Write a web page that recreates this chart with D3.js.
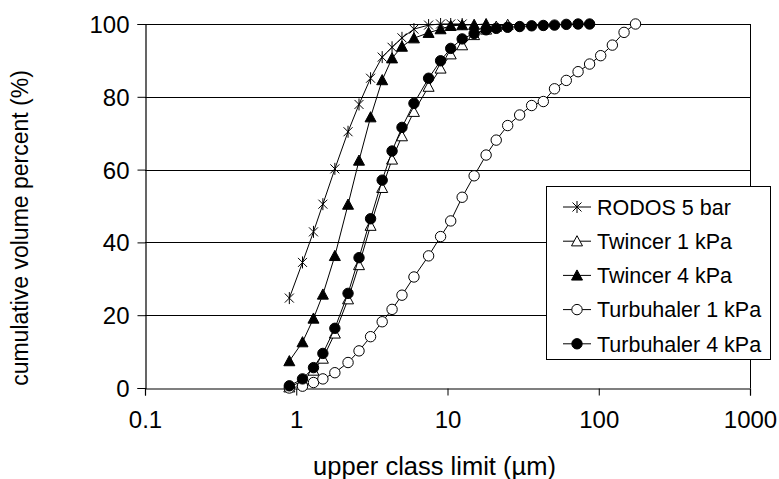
<!DOCTYPE html>
<html><head><meta charset="utf-8">
<script src="https://cdn.jsdelivr.net/npm/d3@7"></script>
<style>body{margin:0;background:#fff}svg text{font-family:"Liberation Sans",Arial,sans-serif;fill:#000}</style>
</head><body><svg id="c" width="779" height="479"></svg>
<script>
const sizes = [0.9,1.1,1.3,1.5,1.8,2.2,2.6,3.1,3.7,4.3,5.0,6.0,7.5,9.0,10.5,12.5,15,18,21,25,30,36,43,51,61,73,87,103,123,147,175];
const rodos5bar      = [24.7,34.5,42.9,50.5,60.2,70.4,77.9,85.1,90.9,93.6,96.2,98.6,99.7,100,100,100];
const twincer1kPa    = [0.2,2.0,4.8,8.1,15.0,24.4,33.8,44.6,55.0,62.8,69.2,75.9,82.8,87.8,91.7,94.2,97.0,98.5,99.3,99.8];
const twincer4kPa    = [7.4,12.6,19.1,25.7,36.3,50.4,62.5,74.4,84.6,90.6,93.8,96.1,97.6,98.6,99.5,99.7,99.8,100];
const turbuhaler1kPa = [0,0.5,1.5,2.5,4.2,7.0,10.2,14.1,18.2,21.6,25.5,30.5,36.3,41.6,45.9,52.4,58.3,64.0,68.1,72.1,75.0,77.6,78.7,82.2,84.5,86.9,89.0,91.3,94.2,97.7,100];
const turbuhaler4kPa = [0.6,2.5,5.6,9.5,16.4,26.0,35.8,46.5,57.1,65.1,71.6,78.2,85.1,89.9,93.3,95.9,97.4,98.4,98.8,99.1,99.3,99.5,99.6,99.7,99.9,100,100];
const seriesNames = ["RODOS 5 bar","Twincer 1 kPa","Twincer 4 kPa","Turbuhaler 1 kPa","Turbuhaler 4 kPa"];
const seriesMarkers = ["star","triOpen","triFilled","circOpen","circFilled"];
const xTicks = [0.1,1,10,100,1000];
const xTickLabels = ["0.1","1","10","100","1000"];
const yTicks = [0,20,40,60,80,100];
const xTitle = "upper class limit (µm)";
const yTitle = "cumulative volume percent (%)";

const seriesValues = [rodos5bar,twincer1kPa,twincer4kPa,turbuhaler1kPa,turbuhaler4kPa];
const series = seriesNames.map((n,i)=>({name:n, marker:seriesMarkers[i], pts:seriesValues[i].map((v,j)=>({x:sizes[j], y:v}))}));

const L=145, R=750, T=24, B=388;
const svg = d3.select("#c");
const x = d3.scaleLog().domain([0.1,1000]).range([L,R]);
const y = d3.scaleLinear().domain([0,100]).range([B,T]);

svg.append("g").selectAll("line").data(yTicks.filter(d=>d>0)).join("line")
  .attr("x1",L).attr("x2",R).attr("y1",d=>Math.round(y(d))+0.5).attr("y2",d=>Math.round(y(d))+0.5)
  .attr("stroke","#000").attr("stroke-width",1);
svg.append("line").attr("x1",R+0.5).attr("x2",R+0.5).attr("y1",T).attr("y2",B).attr("stroke","#000");

const xAxis = svg.append("g").attr("transform",`translate(0,${Math.round(B)+0.5})`)
  .call(d3.axisBottom(x).tickValues(xTicks).tickFormat((d,i)=>xTickLabels[i]).tickSize(7).tickPadding(15));
const yAxis = svg.append("g").attr("transform",`translate(${L+0.5},0)`)
  .call(d3.axisLeft(y).tickValues(yTicks).tickSize(8).tickPadding(8));
[xAxis,yAxis].forEach(a=>{
  a.select(".domain").attr("stroke","#000").attr("stroke-width",1.2);
  a.selectAll(".tick line").attr("stroke","#000");
  a.selectAll(".tick text").attr("font-size",24).attr("font-family","Liberation Sans, Arial, sans-serif");
});
yAxis.selectAll(".tick text").attr("dy","0.35em");

svg.append("text").attr("x",434.5).attr("y",475).attr("text-anchor","middle").attr("font-size",25.5).text(xTitle);
svg.append("text").attr("transform",`translate(28,${(T+B)/2+22}) rotate(-90)`).attr("text-anchor","middle").attr("font-size",23).text(yTitle);

function drawMarker(g, type, cx, cy){
  if(type==="star"){
    const a=4.5;
    g.append("path").attr("d",`M${cx-a},${cy-a}L${cx+a},${cy+a}M${cx-a},${cy+a}L${cx+a},${cy-a}M${cx},${cy-6}L${cx},${cy+6}`)
      .attr("stroke","#000").attr("stroke-width",1).attr("fill","none");
  } else if(type.startsWith("tri")){
    const s=5.5;
    g.append("path").attr("d",`M${cx},${cy-s}L${cx+s},${cy+s*0.85}L${cx-s},${cy+s*0.85}Z`)
      .attr("stroke","#000").attr("stroke-width",1).attr("fill",type==="triFilled"?"#000":"#fff");
  } else {
    g.append("circle").attr("cx",cx).attr("cy",cy).attr("r",5.2)
      .attr("stroke","#000").attr("stroke-width",1).attr("fill",type==="circFilled"?"#000":"#fff");
  }
}

const line = d3.line().x(d=>x(d.x)).y(d=>y(d.y));
series.forEach(s=>{
  const g = svg.append("g");
  g.append("path").attr("d",line(s.pts)).attr("fill","none").attr("stroke","#000").attr("stroke-width",1);
  s.pts.forEach(p=>drawMarker(g,s.marker,x(p.x),y(p.y)));
});

const lg = svg.append("g");
lg.append("rect").attr("x",546.5).attr("y",186.5).attr("width",224).attr("height",173).attr("fill","#fff").attr("stroke","#000");
series.forEach((s,i)=>{
  const cy = 207 + i*34.2;
  lg.append("line").attr("x1",563).attr("x2",591).attr("y1",cy).attr("y2",cy).attr("stroke","#000");
  drawMarker(lg,s.marker,577,cy);
  lg.append("text").attr("x",597).attr("y",cy).attr("dy","0.36em").attr("font-size",21.5).text(s.name);
});
</script></body></html>
